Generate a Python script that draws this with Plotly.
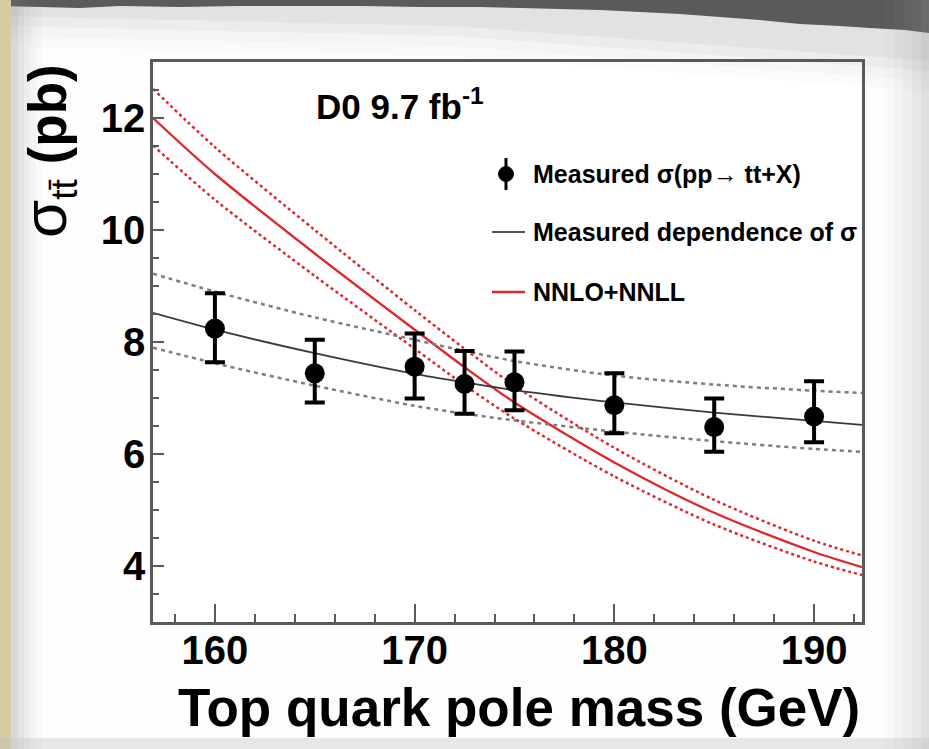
import plotly.graph_objects as go

# ---------------- data ----------------
# measured cross sections at the generated top-quark masses (pb)
mass_pts = [160, 165, 170, 172.5, 175, 180, 185, 190]
xsec_pts = [8.24, 7.44, 7.56, 7.25, 7.28, 6.87, 6.48, 6.67]
err_hi = [0.63, 0.60, 0.59, 0.59, 0.55, 0.57, 0.51, 0.63]
err_lo = [0.60, 0.52, 0.57, 0.53, 0.50, 0.50, 0.44, 0.46]

# sampled curves versus pole mass
mass_curve = [156.9, 160, 165, 170, 172.5, 175, 180, 185, 190, 192.4]
fit_central = [8.52, 8.22, 7.80, 7.43, 7.28, 7.14, 6.92, 6.74, 6.59, 6.52]
fit_upper = [9.22, 8.90, 8.44, 8.04, 7.84, 7.66, 7.40, 7.24, 7.13, 7.09]
fit_lower = [7.90, 7.62, 7.22, 6.86, 6.72, 6.60, 6.40, 6.23, 6.09, 6.04]
nnlo_central = [12.00, 11.00, 9.58, 8.22, 7.55, 6.92, 5.85, 4.95, 4.25, 3.98]
nnlo_upper = [12.52, 11.48, 10.00, 8.57, 7.88, 7.22, 6.11, 5.18, 4.45, 4.19]
nnlo_lower = [11.51, 10.54, 9.18, 7.88, 7.23, 6.63, 5.60, 4.74, 4.08, 3.84]

x_range = [156.9, 192.4]
y_range = [3, 13]
x_ticks = [160, 170, 180, 190]
y_ticks = [4, 6, 8, 10, 12]

legend_labels = [
    "Measured σ(pp\u2192 tt+X)",
    "Measured dependence of σ",
    "NNLO+NNLL",
]

# ---------------- page geometry (pixels) ----------------
W, H = 929, 749
L, R, T, B = 153, 862, 62, 622


def px(x):
    return (x - L) / (R - L)


def py(y):
    return (B - y) / (B - T)


FONT = "Liberation Sans, Arial, Helvetica, sans-serif"
RED = "#e0262b"
GREY_D = "#7d7d7d"

fig = go.Figure()

spline = dict(shape="spline", smoothing=0.8)

fig.add_trace(go.Scatter(x=mass_curve, y=nnlo_upper, mode="lines",
                         line=dict(color=RED, width=2.5, dash="3px,3px", **spline)))
fig.add_trace(go.Scatter(x=mass_curve, y=nnlo_lower, mode="lines",
                         line=dict(color=RED, width=2.5, dash="3px,3px", **spline)))
fig.add_trace(go.Scatter(x=mass_curve, y=nnlo_central, mode="lines",
                         line=dict(color=RED, width=2.3, **spline)))

fig.add_trace(go.Scatter(x=mass_curve, y=fit_upper, mode="lines",
                         line=dict(color=GREY_D, width=2.5, dash="4px,4px", **spline)))
fig.add_trace(go.Scatter(x=mass_curve, y=fit_lower, mode="lines",
                         line=dict(color=GREY_D, width=2.5, dash="4px,4px", **spline)))
fig.add_trace(go.Scatter(x=mass_curve, y=fit_central, mode="lines",
                         line=dict(color="#3a3a3a", width=1.8, **spline)))

fig.add_trace(go.Scatter(
    x=mass_pts, y=xsec_pts, mode="markers",
    marker=dict(color="black", size=20),
    error_y=dict(type="data", symmetric=False, array=err_hi, arrayminus=err_lo,
                 color="black", thickness=4, width=10),
))

# ---------------- page decoration ----------------
shapes = []


def rect(x0, y0, x1, y1, color, opacity=1.0):
    shapes.append(dict(type="rect", xref="paper", yref="paper", layer="below",
                       x0=px(x0), x1=px(x1), y0=py(y1), y1=py(y0),
                       fillcolor=color, opacity=opacity, line=dict(width=0)))


def poly(points, color, opacity=1.0):
    d = "M " + " L ".join(f"{px(a):.5f},{py(b):.5f}" for a, b in points) + " Z"
    shapes.append(dict(type="path", xref="paper", yref="paper", layer="below",
                       path=d, fillcolor=color, opacity=opacity, line=dict(width=0)))


# soft grey shading under the torn top strip
for yy, op in [(46, 0.035), (36, 0.05), (26, 0.08), (16, 0.12)]:
    poly([(0, 0), (929, 0), (929, yy + 45), (700, yy + 28), (450, yy + 10), (0, yy)], "#9a9a9a", op)
# dark torn strip at the top
poly([(0, 0), (929, 0), (929, 33), (905, 30), (870, 28), (840, 26), (800, 24),
      (760, 20), (720, 17), (680, 14), (640, 12), (600, 10), (560, 9), (520, 8),
      (480, 7), (420, 7), (360, 6), (300, 6), (240, 6), (180, 7), (120, 6),
      (80, 8), (40, 7), (0, 6)], "#5a5a5a")
# left beige edge and its shadow
for i, op in enumerate([0.10, 0.08, 0.06, 0.04, 0.03]):
    rect(10, 0, 18 + 6 * i, 749, "#808080", op)
rect(0, 0, 11, 749, "#d6cba3")
# right shadow
for i, op in enumerate([0.04, 0.05, 0.06, 0.08, 0.10]):
    rect(885 + 9 * i, 0, 929, 749, "#9a9a9a", op)
# bottom shadow
rect(0, 738, 929, 749, "#bdbdbd", 0.35)

# ---------------- legend (drawn by hand) ----------------
leg_y = [174, 232, 292]
leg_x0, leg_x1, leg_text_x = 492, 525, 531

shapes.append(dict(type="line", xref="paper", yref="paper",
                   x0=px(506), x1=px(506), y0=py(158), y1=py(190),
                   line=dict(color="black", width=3)))
shapes.append(dict(type="circle", xref="paper", yref="paper",
                   x0=px(498.5), x1=px(513.5), y0=py(181.5), y1=py(166.5),
                   fillcolor="black", line=dict(color="black", width=1)))
shapes.append(dict(type="line", xref="paper", yref="paper",
                   x0=px(leg_x0), x1=px(leg_x1), y0=py(leg_y[1]), y1=py(leg_y[1]),
                   line=dict(color="#555555", width=2)))
shapes.append(dict(type="line", xref="paper", yref="paper",
                   x0=px(leg_x0), x1=px(leg_x1), y0=py(leg_y[2]), y1=py(leg_y[2]),
                   line=dict(color=RED, width=2.5)))

annotations = []
for lab, yy in zip(legend_labels, leg_y):
    annotations.append(dict(text=lab, xref="paper", yref="paper",
                            x=px(leg_text_x), y=py(yy), xanchor="left", yanchor="middle",
                            showarrow=False,
                            font=dict(family=FONT, size=25, color="black", weight="bold")))

annotations.append(dict(text="D0 9.7 fb<sup>-1</sup>", xref="paper", yref="paper",
                        x=px(314), y=py(104), xanchor="left", yanchor="middle",
                        showarrow=False,
                        font=dict(family=FONT, size=35, color="black", weight="bold")))

annotations.append(dict(text="Top quark pole mass (GeV)", xref="paper", yref="paper",
                        x=1.0, y=py(707), xanchor="right", yanchor="middle",
                        showarrow=False,
                        font=dict(family=FONT, size=53, color="black", weight="bold")))

annotations.append(dict(text="<span style='font-size:62px'>σ</span><sub>tt\u0304</sub> <b>(pb)</b>",
                        xref="paper", yref="paper",
                        x=px(47), y=py(62), xanchor="center", yanchor="top",
                        textangle=-90, showarrow=False,
                        font=dict(family=FONT, size=53, color="black")))

axis_line = "#5a5a5a"
fig.update_layout(
    width=W, height=H,
    margin=dict(l=L, r=W - R, t=T, b=H - B, pad=0),
    paper_bgcolor="#fdfdfd",
    plot_bgcolor="white",
    showlegend=False,
    shapes=shapes,
    annotations=annotations,
    xaxis=dict(range=x_range, tickmode="array", tickvals=x_ticks,
               ticks="inside", ticklen=18, tickwidth=2, tickcolor=axis_line,
               minor=dict(ticks="inside", ticklen=8, tickwidth=2, tickcolor=axis_line,
                          dtick=2, tick0=160, showgrid=False),
               showline=True, linecolor=axis_line, linewidth=2.5, mirror=True,
               showgrid=False, zeroline=False,
               tickfont=dict(family=FONT, size=40, color="black", weight="bold"),
               ticklabelstandoff=-9),
    yaxis=dict(range=y_range, tickmode="array", tickvals=y_ticks,
               ticks="inside", ticklen=11, tickwidth=2, tickcolor=axis_line,
               minor=dict(ticks="inside", ticklen=6, tickwidth=2, tickcolor=axis_line,
                          dtick=0.5, tick0=0, showgrid=False),
               showline=True, linecolor=axis_line, linewidth=2.5, mirror=True,
               showgrid=False, zeroline=False,
               tickfont=dict(family=FONT, size=40, color="black", weight="bold"),
               ticklabelstandoff=-3),
)

fig.write_html("out.html", post_script="document.body.style.margin='0';")
